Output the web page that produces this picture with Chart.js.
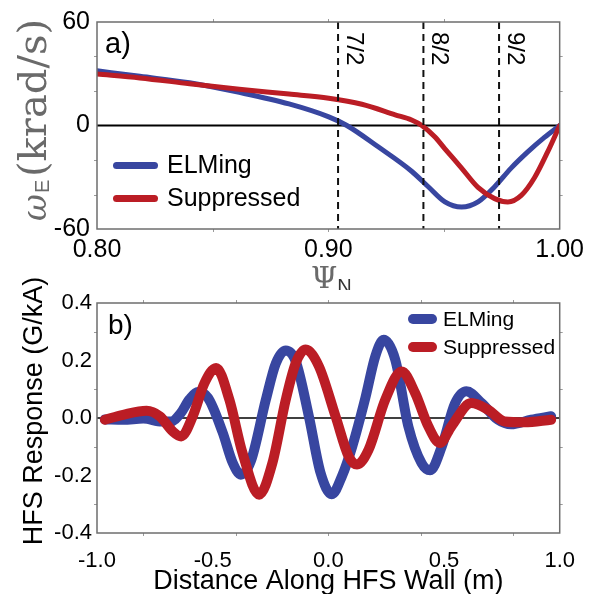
<!DOCTYPE html>
<html>
<head>
<meta charset="utf-8">
<script src="https://cdn.jsdelivr.net/npm/chart.js@4.4.1/dist/chart.umd.min.js"></script>
<style>
  body { margin: 0; background: #fff; }
  #wrap { position: relative; width: 590px; height: 594px; }
  canvas { position: absolute; left: 0; }
  #topChart { top: 0; }
  #bottomChart { top: 270px; }
</style>
</head>
<body>
<div id="wrap">
  <canvas id="topChart" width="590" height="290"></canvas>
  <canvas id="bottomChart" width="590" height="324"></canvas>
</div>
<script>
/* --- Panel a) E x B rotation vs psi_N --- */
const psiElming   = [0.800, 0.8185, 0.840, 0.8615, 0.883, 0.9002, 0.908, 0.9217, 0.936, 0.9432, 0.9504, 0.9576, 0.9647, 0.9719, 0.979, 0.9862, 0.9934, 1.000];
const omegaElming = [31.7, 28.5, 24.8, 19.2, 12.5, 5.0, 0.0, -12.5, -26.5, -35.5, -44.3, -47.3, -44.3, -35.5, -24.7, -15.3, -6.9, 0.0];
const psiSuppr    = [0.800, 0.8185, 0.840, 0.8615, 0.883, 0.9002, 0.9145, 0.9289, 0.936, 0.9404, 0.946, 0.9504, 0.9576, 0.9647, 0.9719, 0.9776, 0.9834, 0.9891, 0.9948, 1.000];
const omegaSuppr  = [29.8, 27.6, 24.2, 21.0, 18.2, 15.8, 12.3, 6.2, 3.2, 0.0, -6.5, -13.5, -24.7, -35.9, -42.4, -44.3, -40.5, -30.3, -15.3, 0.0];
const rationalPsi    = [0.9042, 0.9411, 0.9738];
const rationalLabels = ['7/2', '8/2', '9/2'];
const topXTickLabels = [0.80, 0.90, 1.00];
const topXTickMarks  = [0.85, 0.90, 0.95];
const topYTickLabels = [-60, 0, 60];
const topYTickMarks  = [-40, -20, 20, 40];

/* --- Panel b) HFS response vs distance --- */
const distElming = [-0.966, -0.887, -0.80, -0.72, -0.68, -0.64, -0.60, -0.564, -0.52, -0.457, -0.414, -0.378, -0.335, -0.27, -0.227, -0.184, -0.141, -0.084, -0.034, 0.015, 0.06, 0.103, 0.16, 0.203, 0.239, 0.289, 0.346, 0.403, 0.44, 0.49, 0.547, 0.597, 0.662, 0.733, 0.79, 0.877, 0.963];
const respElming = [-0.005, -0.006, -0.002, -0.012, -0.012, 0.015, 0.065, 0.09, 0.07, -0.05, -0.155, -0.197, -0.15, 0.064, 0.19, 0.235, 0.197, 0.005, -0.19, -0.265, -0.2, -0.1, 0.07, 0.215, 0.272, 0.203, -0.03, -0.157, -0.182, -0.1, 0.05, 0.093, 0.052, -0.006, -0.022, -0.006, 0.006];
const distSuppr  = [-0.966, -0.887, -0.786, -0.729, -0.672, -0.636, -0.586, -0.535, -0.485, -0.428, -0.371, -0.299, -0.242, -0.184, -0.141, -0.098, -0.041, 0.031, 0.088, 0.124, 0.174, 0.246, 0.317, 0.375, 0.432, 0.482, 0.532, 0.618, 0.69, 0.762, 0.848, 0.963];
const respSuppr  = [-0.006, 0.011, 0.025, 0.006, -0.047, -0.064, 0.006, 0.122, 0.174, 0.064, -0.122, -0.267, -0.157, 0.064, 0.191, 0.238, 0.18, 0.006, -0.134, -0.162, -0.11, 0.064, 0.162, 0.087, -0.029, -0.087, -0.029, 0.052, 0.029, -0.012, -0.015, -0.006];
const botXTickLabels = [-1.0, -0.5, 0.0, 0.5, 1.0];
const botXTickMarks  = [-0.8, -0.4, 0.0, 0.4, 0.8];
const botYTickLabels = [-0.4, -0.2, 0.0, 0.2, 0.4];
const botYTickMarks  = [-0.3, -0.1, 0.1, 0.3];

const seriesNames = ['ELMing', 'Suppressed'];
const BLUE = '#3846a0';
const RED = '#bb1d25';
const GRAY_TEXT = '#6a6a6a';
const SANS = '"Liberation Sans", Arial, sans-serif';
const SERIF = '"DejaVu Serif", serif';

Chart.defaults.font.family = SANS;
Chart.defaults.color = '#000';

const pts = (xs, ys) => xs.map((x, i) => ({ x, y: ys[i] }));

/* --- Shared frame / zero line / tick marks / legend --- */
const framePlugin = {
    id: 'frame',
    beforeDatasetsDraw(chart, args, opts) {
        const { ctx, chartArea: a, scales: { y } } = chart;
        const y0 = y.getPixelForValue(0);
        ctx.save();
        ctx.strokeStyle = '#000';
        ctx.lineWidth = opts.zeroWidth;
        ctx.beginPath();
        ctx.moveTo(a.left, y0);
        ctx.lineTo(a.right, y0);
        ctx.stroke();
        ctx.restore();
    },
    afterDraw(chart, args, opts) {
        const { ctx, chartArea: a, scales: { x, y } } = chart;
        ctx.save();
        // tick marks
        ctx.strokeStyle = '#9a9a9a';
        ctx.lineWidth = 1;
        ctx.beginPath();
        opts.xMarks.forEach(v => {
            const px = Math.round(x.getPixelForValue(v)) + 0.5;
            ctx.moveTo(px, a.bottom); ctx.lineTo(px, a.bottom + 3);
            ctx.moveTo(px, a.top); ctx.lineTo(px, a.top - 3);
        });
        opts.yMarks.forEach(v => {
            const py = Math.round(y.getPixelForValue(v)) + 0.5;
            ctx.moveTo(a.left, py); ctx.lineTo(a.left - 3, py);
            ctx.moveTo(a.right, py); ctx.lineTo(a.right + 3, py);
        });
        ctx.stroke();
        // box
        ctx.strokeStyle = '#6e6e6e';
        ctx.lineWidth = 1.5;
        ctx.strokeRect(a.left, a.top, a.right - a.left, a.bottom - a.top);
        // panel letter
        ctx.fillStyle = '#000';
        ctx.font = opts.letterFont;
        ctx.textBaseline = 'alphabetic';
        ctx.textAlign = 'left';
        ctx.fillText(opts.letter, a.left + opts.letterDx, a.top + opts.letterDy);
        // legend
        const lg = opts.legend;
        ctx.font = lg.font;
        ctx.textBaseline = 'middle';
        chart.data.datasets.filter(d => seriesNames.includes(d.label))
            .sort((p, q) => seriesNames.indexOf(p.label) - seriesNames.indexOf(q.label))
            .forEach((d, i) => {
                const ly = lg.y + i * lg.gap;
                ctx.strokeStyle = d.borderColor;
                ctx.lineWidth = lg.width;
                ctx.lineCap = 'round';
                ctx.beginPath();
                ctx.moveTo(lg.x0 + lg.width / 2, ly);
                ctx.lineTo(lg.x1 - lg.width / 2, ly);
                ctx.stroke();
                ctx.fillStyle = '#000';
                ctx.fillText(d.label, lg.tx, ly + 1);
            });
        ctx.restore();
    }
};

/* --- Panel a) extras: rational surfaces and math labels --- */
const topDecor = {
    id: 'topDecor',
    afterDatasetsDraw(chart) {
        const { ctx, chartArea: a, scales: { x } } = chart;
        ctx.save();
        ctx.strokeStyle = '#111';
        ctx.lineWidth = 2;
        ctx.setLineDash([7, 5]);
        rationalPsi.forEach(v => {
            const px = x.getPixelForValue(v);
            ctx.beginPath();
            ctx.moveTo(px, a.top);
            ctx.lineTo(px, a.bottom);
            ctx.stroke();
        });
        ctx.setLineDash([]);
        ctx.fillStyle = '#000';
        ctx.font = '24px ' + SANS;
        ctx.textBaseline = 'alphabetic';
        ctx.textAlign = 'left';
        rationalPsi.forEach((v, i) => {
            const px = x.getPixelForValue(v);
            ctx.save();
            ctx.translate(px + 9, a.top + 10);
            ctx.rotate(Math.PI / 2);
            ctx.fillText(rationalLabels[i], 0, 0);
            ctx.restore();
        });
        ctx.restore();
    },
    afterDraw(chart) {
        const { ctx, chartArea: a } = chart;
        ctx.save();
        ctx.fillStyle = GRAY_TEXT;
        ctx.textBaseline = 'alphabetic';
        ctx.textAlign = 'left';
        // y title: omega_E (krad/s), serif part fitted to the reference length
        ctx.font = '40px ' + SERIF;
        const size = 40 * 158 / ctx.measureText('(krad/s)').width;
        ctx.translate(46, 221);
        ctx.rotate(-Math.PI / 2);
        ctx.font = 'italic 33px ' + SERIF;
        ctx.fillText('\u03c9', 0, 0);
        ctx.font = '20px ' + SANS;
        ctx.fillText('E', 28, 3);
        ctx.font = size.toFixed(1) + 'px ' + SERIF;
        ctx.fillText('(krad/s)', 44, 0);
        ctx.restore();
        // x title: Psi_N
        ctx.save();
        ctx.fillStyle = GRAY_TEXT;
        ctx.textBaseline = 'alphabetic';
        ctx.textAlign = 'left';
        ctx.font = '30px ' + SERIF;
        const wPsi = ctx.measureText('\u03a8').width;
        ctx.font = '20px ' + SANS;
        const wN = ctx.measureText('N').width;
        const x0 = (a.left + a.right) / 2 + 3 - (wPsi + wN) / 2;
        ctx.font = '30px ' + SERIF;
        ctx.fillText('\u03a8', x0, 288);
        ctx.fillStyle = '#333';
        ctx.font = '20px ' + SANS;
        ctx.fillText('N', x0 + wPsi, 293);
        ctx.restore();
    }
};

/* --- Panel b) extras: axis titles --- */
const botDecor = {
    id: 'botDecor',
    afterDraw(chart) {
        const { ctx, chartArea: a } = chart;
        ctx.save();
        ctx.fillStyle = '#000';
        ctx.font = '27px ' + SANS;
        ctx.textBaseline = 'alphabetic';
        ctx.textAlign = 'center';
        ctx.fillText('Distance Along HFS Wall (m)', (a.left + a.right) / 2, 319);
        ctx.translate(42, 141);
        ctx.rotate(-Math.PI / 2);
        ctx.fillText('HFS Response (G/kA)', 0, 0);
        ctx.restore();
    }
};

function axis(opts) {
    return {
        type: 'linear',
        min: opts.min,
        max: opts.max,
        afterBuildTicks: s => { s.ticks = opts.labels.map(v => ({ value: v })); },
        afterFit: s => { if (opts.width) s.width = opts.width; if (opts.height) s.height = opts.height; },
        grid: { display: false, drawTicks: false },
        border: { display: false },
        ticks: {
            padding: opts.padding,
            autoSkip: false,
            maxRotation: 0,
            font: { size: opts.size },
            color: '#000',
            callback: opts.format
        }
    };
}

function lineSet(label, data, color, width, order) {
    return {
        label, data,
        borderColor: color,
        backgroundColor: color,
        borderWidth: width,
        pointRadius: 0,
        fill: false,
        cubicInterpolationMode: 'monotone',
        borderCapStyle: 'round',
        borderJoinStyle: 'round',
        order
    };
}

/* --- Chart: panel a) --- */
new Chart(document.getElementById('topChart'), {
    type: 'line',
    data: {
        datasets: [
            lineSet(seriesNames[1], pts(psiSuppr, omegaSuppr), RED, 5, 0),
            lineSet(seriesNames[0], pts(psiElming, omegaElming), BLUE, 5, 1)
        ]
    },
    options: {
        responsive: false,
        animation: false,
        devicePixelRatio: 1,
        layout: { padding: { top: 15, right: 28, left: 0, bottom: 0 } },
        scales: {
            x: axis({ min: 0.8, max: 1.0, labels: topXTickLabels, height: 61, padding: 6, size: 25, format: v => v.toFixed(2) }),
            y: axis({ min: -60, max: 60, labels: topYTickLabels, width: 97, padding: 7, size: 25, format: v => String(v) })
        },
        plugins: {
            legend: { display: false },
            tooltip: { enabled: false },
            frame: {
                zeroWidth: 2.2,
                xMarks: topXTickMarks, yMarks: topYTickMarks,
                letter: 'a)', letterFont: '29px ' + SANS, letterDx: 8, letterDy: 31,
                legend: { x0: 113, x1: 158, tx: 167, y: 165.5, gap: 33, width: 7, font: '25px ' + SANS }
            }
        }
    },
    plugins: [framePlugin, topDecor]
});

/* --- Chart: panel b) --- */
new Chart(document.getElementById('bottomChart'), {
    type: 'line',
    data: {
        datasets: [
            lineSet(seriesNames[1], pts(distSuppr, respSuppr), RED, 10, 0),
            lineSet(seriesNames[0], pts(distElming, respElming), BLUE, 10, 1)
        ]
    },
    options: {
        responsive: false,
        animation: false,
        devicePixelRatio: 1,
        layout: { padding: { top: 33, right: 28, left: 0, bottom: 0 } },
        scales: {
            x: axis({ min: -1.0, max: 1.0, labels: botXTickLabels, height: 61, padding: 15, size: 22, format: v => v.toFixed(1) }),
            y: axis({ min: -0.4, max: 0.4, labels: botYTickLabels, width: 97, padding: 5, size: 22, format: v => v.toFixed(1) })
        },
        plugins: {
            legend: { display: false },
            tooltip: { enabled: false },
            frame: {
                zeroWidth: 1.3,
                xMarks: botXTickMarks, yMarks: botYTickMarks,
                letter: 'b)', letterFont: '28px ' + SANS, letterDx: 11, letterDy: 31,
                legend: { x0: 408, x1: 437, tx: 443, y: 49, gap: 28, width: 10, font: '21px ' + SANS }
            }
        }
    },
    plugins: [framePlugin, botDecor]
});
</script>
</body>
</html>
